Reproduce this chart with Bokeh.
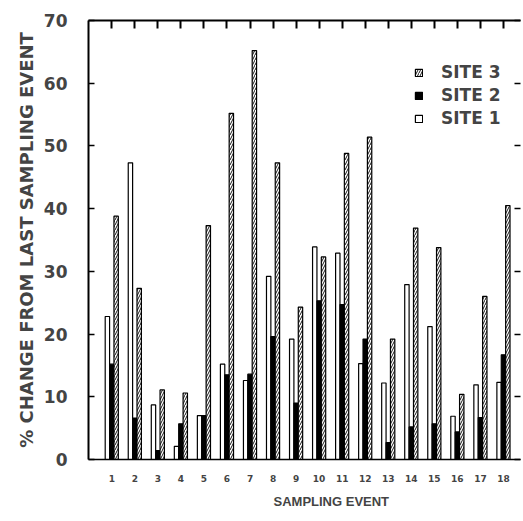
from bokeh.plotting import figure
from bokeh.models import (Range1d, LinearAxis, FixedTicker, Legend, LegendItem,
                          ColumnDataSource, Title)
from bokeh.transform import dodge
from bokeh.embed import file_html
from bokeh.resources import INLINE

events = list(range(1, 19))
tick_labels = [str(i) for i in events]
site1 = [22.8, 47.3, 8.7, 2.1, 7.0, 15.2, 12.6, 29.2, 19.2, 33.9, 32.9, 15.3, 12.2, 27.9, 21.2, 6.9, 11.9, 12.3]
site2 = [15.2, 6.6, 1.4, 5.7, 7.0, 13.5, 13.6, 19.6, 9.0, 25.3, 24.7, 19.2, 2.7, 5.2, 5.7, 4.4, 6.7, 16.7]
site3 = [38.8, 27.3, 11.1, 10.6, 37.3, 55.2, 65.2, 47.3, 24.3, 32.3, 48.8, 51.4, 19.2, 36.9, 33.8, 10.4, 26.0, 40.5]
y_ticks = [0, 10, 20, 30, 40, 50, 60, 70]

src = ColumnDataSource(dict(x=events, s1=site1, s2=site2, s3=site3))

FONT = "DejaVu Sans"
X0, X1 = -0.01, 18.74
Y0, Y1 = 0, 70

p = figure(width=523, height=521, output_backend="svg", toolbar_location=None,
           x_range=Range1d(X0, X1), y_range=Range1d(Y0, Y1),
           min_border_left=88, min_border_right=3, min_border_top=20,
           min_border_bottom=62, x_axis_location=None, y_axis_location=None)
p.outline_line_color = None
p.xgrid.visible = False
p.ygrid.visible = False
p.background_fill_color = "white"
p.border_fill_color = "white"

w = 0.19
r1 = p.vbar(x=dodge("x", -0.19, range=p.x_range), top="s1", width=w, source=src,
            fill_color="white", line_color="black", line_width=1.2)
r2 = p.vbar(x=dodge("x", 0.0, range=p.x_range), top="s2", width=w, source=src,
            fill_color="black", line_color="black", line_width=1.2)
r3 = p.vbar(x=dodge("x", 0.19, range=p.x_range), top="s3", width=w, source=src,
            fill_color="white", line_color="black", line_width=1.2,
            hatch_pattern="/", hatch_scale=5, hatch_weight=0.9, hatch_color="black")

# left axis
ya = LinearAxis(ticker=FixedTicker(ticks=y_ticks),
                axis_label="% CHANGE FROM LAST SAMPLING EVENT")
ya.axis_line_width = 2
ya.major_tick_in = 6
ya.major_tick_out = 0
ya.major_tick_line_width = 1.5
ya.minor_tick_line_color = None
ya.major_label_standoff = 21
ya.major_label_text_font = FONT
ya.major_label_text_font_style = "bold"
ya.major_label_text_font_size = "17px"
ya.axis_label_text_font = FONT
ya.axis_label_text_font_style = "bold"
ya.axis_label_text_font_size = "18px"
ya.axis_label_standoff = 4
p.add_layout(ya, "left")

# right axis: ticks only, labels emptied by a standoff-free blank formatter
ra = LinearAxis(ticker=FixedTicker(ticks=y_ticks),
                major_label_overrides={t: " " for t in y_ticks})
ra.axis_line_color = None
ra.major_tick_in = 6
ra.major_tick_out = 0
ra.major_tick_line_width = 1.5
ra.minor_tick_line_color = None
ra.major_label_standoff = 0
ra.major_label_text_font_size = "1px"
p.add_layout(ra, "right")

# bottom axis
xa = LinearAxis(ticker=FixedTicker(ticks=events),
                major_label_overrides={e: t for e, t in zip(events, tick_labels)})
xa.axis_line_width = 1.5
xa.major_tick_line_color = None
xa.minor_tick_line_color = None
xa.major_label_standoff = 9
xa.major_label_text_font = FONT
xa.major_label_text_font_style = "bold"
xa.major_label_text_font_size = "9px"
p.add_layout(xa, "below")

xt = Title(text="SAMPLING EVENT", align="left", offset=185,
           text_font="Liberation Sans", text_font_style="bold",
           text_font_size="13px", standoff=14)
p.add_layout(xt, "below")

# top axis: line and inward ticks
ta = LinearAxis(ticker=FixedTicker(ticks=events),
                major_label_overrides={e: " " for e in events})
ta.axis_line_width = 2
ta.major_tick_in = 8
ta.major_tick_out = 0
ta.major_tick_line_width = 2
ta.minor_tick_line_color = None
ta.major_label_standoff = 0
ta.major_label_text_font_size = "1px"
p.add_layout(ta, "above")

legend = Legend(items=[LegendItem(label="SITE 3", renderers=[r3]),
                       LegendItem(label="SITE 2", renderers=[r2]),
                       LegendItem(label="SITE 1", renderers=[r1])],
                location=(326, 331))
legend.border_line_color = None
legend.background_fill_alpha = 0
legend.padding = 0
legend.margin = 0
legend.glyph_width = 9
legend.glyph_height = 9
legend.label_standoff = 18
legend.spacing = 3
legend.label_text_font = FONT
legend.label_text_font_style = "bold"
legend.label_text_font_size = "17px"
p.add_layout(legend, "center")

open("out.html", "w").write(file_html(p, INLINE))
